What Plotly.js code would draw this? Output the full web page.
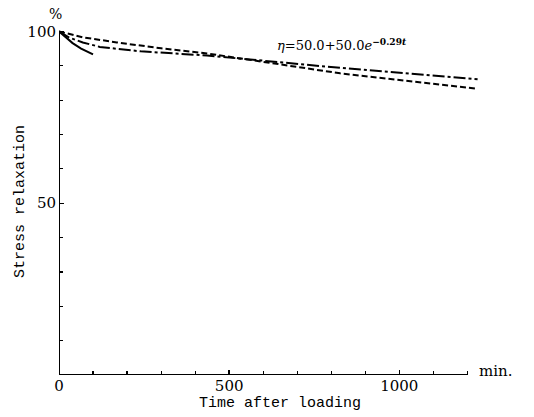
<!DOCTYPE html>
<html>
<head>
<meta charset="utf-8">
<script src="https://cdn.plot.ly/plotly-3.0.1.min.js"></script>
<style>html,body{margin:0;padding:0;background:#fff;}#chart{width:534px;height:417px;}</style>
</head>
<body>
<div id="chart"></div>
<script>
// Data
const solidTime = [0, 20, 40, 65, 100];
const solidValue = [100, 98.2, 96.6, 95.0, 93.3];

const dashDotTime = [0, 30, 70, 120, 240, 435, 826, 1230];
const dashDotValue = [100, 98.2, 96.8, 95.5, 94.2, 93.0, 89.4, 86.1];

const dashedTime = [0, 70, 170, 300, 435, 826, 1230];
const dashedValue = [100, 98.3, 96.8, 95.1, 93.6, 87.8, 83.3];

const xTickVals = [0, 500, 1000];
const xTickText = ["0", "500", "1000"];
const yTickVals = [50, 100];
const yTickText = ["50", "100"];

const equationText = "<i>η</i>=50.0+50.0<i>e</i><sup><b>−0.29<i>t</i></b></sup>";

const W = 534, H = 417;
const M = {l: 59, r: 53, t: 28, b: 42};
const pw = W - M.l - M.r, ph = H - M.t - M.b;
const px2x = p => (p - M.l) / pw;
const py2y = p => (H - M.b - p) / ph;

const lineStyle = {color: '#000', width: 2};
const traces = [
  {x: solidTime, y: solidValue, mode: 'lines', line: Object.assign({}, lineStyle, {dash: 'solid'}), hoverinfo: 'skip'},
  {x: dashDotTime, y: dashDotValue, mode: 'lines', line: Object.assign({}, lineStyle, {dash: '12px,3px,3px,3px'}), hoverinfo: 'skip'},
  {x: dashedTime, y: dashedValue, mode: 'lines', line: Object.assign({}, lineStyle, {dash: '6px,3px'}), hoverinfo: 'skip'}
];

const serif = 'DejaVu Serif, serif';
const mono = 'Liberation Mono, monospace';

const layout = {
  width: W, height: H,
  margin: M,
  paper_bgcolor: '#fff', plot_bgcolor: '#fff',
  showlegend: false,
  xaxis: {
    range: [0, 1240], showgrid: false, zeroline: false, showline: false,
    tickmode: 'array', tickvals: xTickVals, ticktext: xTickText,
    ticks: 'inside', ticklen: 5, tickwidth: 1.4, tickcolor: '#000',
    tickfont: {family: serif, size: 15, color: '#000'},
    minor: {tick0: 0, dtick: 100, ticks: 'inside', ticklen: 4, tickwidth: 1.2, tickcolor: '#000', showgrid: false}
  },
  yaxis: {
    range: [0, 101], showgrid: false, zeroline: false, showline: false,
    tickmode: 'array', tickvals: yTickVals, ticktext: yTickText,
    ticks: 'inside', ticklen: 5, tickwidth: 1.4, tickcolor: '#000', ticklabelstandoff: 2,
    tickfont: {family: serif, size: 15, color: '#000'},
    minor: {tick0: 0, dtick: 10, ticks: 'inside', ticklen: 4, tickwidth: 1.2, tickcolor: '#000', showgrid: false}
  },
  shapes: [
    {type: 'line', xref: 'x', yref: 'y', x0: 0, x1: 1200, y0: 0, y1: 0, line: {color: '#000', width: 2}},
    {type: 'line', xref: 'x', yref: 'y', x0: 0, x1: 0, y0: 0, y1: 100, line: {color: '#000', width: 2}}
  ],
  annotations: [
    {xref: 'paper', yref: 'paper', x: px2x(55), y: py2y(14), text: '%', showarrow: false,
     font: {family: serif, size: 14, color: '#000'}, xanchor: 'center', yanchor: 'middle'},
    {xref: 'paper', yref: 'paper', x: px2x(477), y: py2y(371), text: 'min.', showarrow: false,
     font: {family: serif, size: 15, color: '#000'}, xanchor: 'left', yanchor: 'middle'},
    {xref: 'paper', yref: 'paper', x: px2x(280), y: py2y(403), text: 'Time after loading', showarrow: false,
     font: {family: mono, size: 15, color: '#000'}, xanchor: 'center', yanchor: 'middle'},
    {xref: 'paper', yref: 'paper', x: px2x(20), y: py2y(202), text: 'Stress relaxation', showarrow: false, textangle: -90,
     font: {family: mono, size: 15, color: '#000'}, xanchor: 'center', yanchor: 'middle'},
    {xref: 'paper', yref: 'paper', x: px2x(275), y: py2y(44), text: equationText, showarrow: false,
     font: {family: serif, size: 13, color: '#000'}, xanchor: 'left', yanchor: 'middle'}
  ]
};

Plotly.newPlot('chart', traces, layout, {displayModeBar: false, staticPlot: true});
</script>
</body>
</html>
